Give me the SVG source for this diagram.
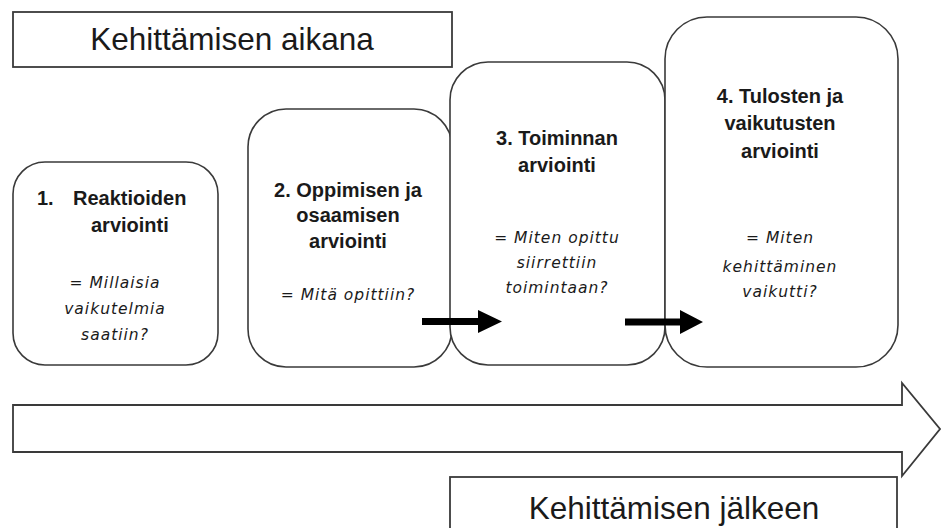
<svg xmlns="http://www.w3.org/2000/svg" width="941" height="528" viewBox="0 0 941 528">
<style>
.frame{fill:#fff;stroke:#3a3a3a;stroke-width:1.8}
.node{fill:#fff;stroke:#3a3a3a;stroke-width:1.6}
.lbl{font-family:"Liberation Sans",Arial,sans-serif;font-size:31.5px;fill:#1a1a1a;text-anchor:middle}
.t{font-family:"Liberation Sans",Arial,sans-serif;font-size:20px;font-weight:bold;fill:#1a1a1a;text-anchor:middle}
.ts{font-family:"Liberation Sans",Arial,sans-serif;font-size:20px;font-weight:bold;fill:#1a1a1a;text-anchor:start}
.q{font-family:"DejaVu Sans",Verdana,sans-serif;font-size:15.5px;font-style:italic;fill:#1a1a1a;text-anchor:middle;letter-spacing:1px}
.arr{fill:#000}
</style>
<g id="during">
<rect class="frame" x="13" y="12" width="439" height="55"/>
<text class="lbl" x="232" y="50">Kehittämisen aikana</text>
</g>
<g id="timeline">
<polygon class="frame" points="13,405 902,405 902,383 940,429 902,476 902,452 13,452"/>
</g>
<g id="after">
<rect class="frame" x="450" y="477" width="447" height="55"/>
<text class="lbl" x="674" y="519">Kehittämisen jälkeen</text>
</g>
<g id="node1">
<rect class="node" x="13" y="162" width="205" height="203" rx="32"/>
<text class="ts" x="37" y="205">1.</text>
<text class="ts" x="73" y="205">Reaktioiden</text>
<text class="ts" x="91" y="232">arviointi</text>
<text class="q" x="115" y="288">= Millaisia</text>
<text class="q" x="115" y="314">vaikutelmia</text>
<text class="q" x="115" y="340">saatiin?</text>
</g>
<g id="node2">
<rect class="node" x="248" y="109" width="204" height="258" rx="38"/>
<text class="t" x="348" y="197">2. Oppimisen ja</text>
<text class="t" x="348" y="222">osaamisen</text>
<text class="t" x="348" y="248">arviointi</text>
<text class="q" x="348" y="300">= Mitä opittiin?</text>
</g>
<g id="node3">
<rect class="node" x="450" y="62" width="215" height="303" rx="38"/>
<text class="t" x="557" y="145">3. Toiminnan</text>
<text class="t" x="557" y="172">arviointi</text>
<text class="q" x="557" y="243">= Miten opittu</text>
<text class="q" x="557" y="268">siirrettiin</text>
<text class="q" x="557" y="293">toimintaan?</text>
</g>
<g id="node4">
<rect class="node" x="665" y="17" width="233" height="350" rx="42"/>
<text class="t" x="780" y="103">4. Tulosten ja</text>
<text class="t" x="780" y="130">vaikutusten</text>
<text class="t" x="780" y="158">arviointi</text>
<text class="q" x="780" y="243">= Miten</text>
<text class="q" x="780" y="272">kehittäminen</text>
<text class="q" x="780" y="297">vaikutti?</text>
</g>
<g id="connectors">
<polygon class="arr" points="422,318 478,318 478,310 502,321.5 478,333 478,325 422,325"/>
<polygon class="arr" points="625,318.5 680,318.5 680,310 703,322 680,334 680,325.5 625,325.5"/>
</g>
</svg>
